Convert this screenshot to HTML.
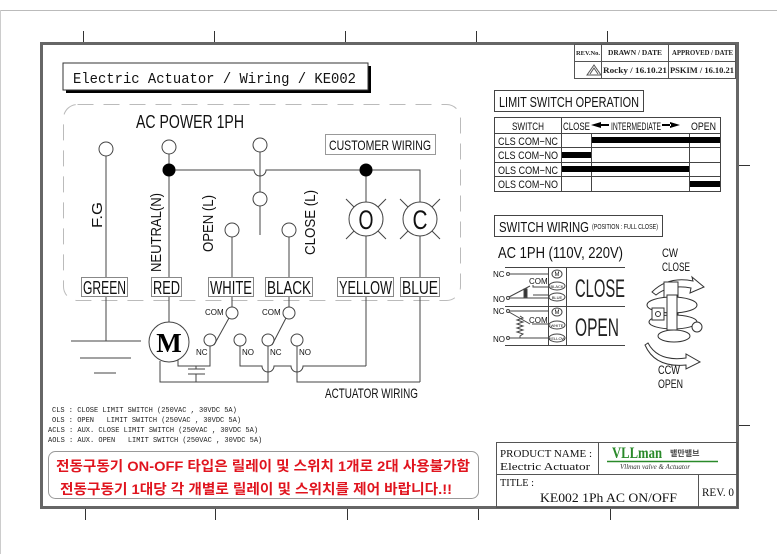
<!DOCTYPE html>
<html><head><meta charset="utf-8"><style>
html,body{margin:0;padding:0;background:#fff;}
svg{display:block;}
.s{font-family:"Liberation Sans",sans-serif;}
.m{font-family:"Liberation Mono","Liberation Serif",monospace;}
.k{font-family:"Liberation Sans","Noto Sans CJK KR",sans-serif;}
</style></head><body>
<svg width="777" height="554" viewBox="0 0 777 554" xmlns="http://www.w3.org/2000/svg">
<rect x="0" y="0" width="777" height="554" fill="#fff"/>
<line x1="0" y1="10.5" x2="777" y2="10.5" stroke="#bbb" stroke-width="1"/>
<line x1="0.5" y1="10" x2="0.5" y2="554" stroke="#ccc"/>
<g stroke="#333" stroke-width="1">
<line x1="83.5" y1="31" x2="83.5" y2="42"/><line x1="214.5" y1="31" x2="214.5" y2="42"/><line x1="345.5" y1="31" x2="345.5" y2="42"/><line x1="476.5" y1="31" x2="476.5" y2="42"/><line x1="607.5" y1="31" x2="607.5" y2="42"/>
<line x1="85.5" y1="508" x2="85.5" y2="520"/><line x1="215.5" y1="508" x2="215.5" y2="520"/><line x1="347.5" y1="508" x2="347.5" y2="520"/><line x1="478.5" y1="508" x2="478.5" y2="520"/><line x1="610.5" y1="508" x2="610.5" y2="520"/>
<line x1="738" y1="165.5" x2="750" y2="165.5"/><line x1="738" y1="425.5" x2="750" y2="425.5"/>
</g>
<rect x="41.5" y="43.5" width="696" height="464" fill="none" stroke="#666" stroke-width="3"/>
<rect x="66" y="66" width="305" height="27" fill="#000"/>
<rect x="63" y="63" width="305" height="27" fill="#fff" stroke="#333"/>
<text x="73" y="83" class="m" font-size="15" textLength="283" lengthAdjust="spacingAndGlyphs" fill="#111">Electric Actuator / Wiring / KE002</text>
<rect x="63.5" y="104.5" width="397" height="196" rx="14" fill="none" stroke="#bbb" stroke-dasharray="16,10"/>
<text x="136" y="128" class="s" font-size="18" textLength="108" lengthAdjust="spacingAndGlyphs" fill="#111">AC POWER 1PH</text>
<g fill="none" stroke="#444" stroke-width="1">
<line x1="106" y1="156" x2="106" y2="341"/>
<line x1="169" y1="154" x2="169" y2="322"/>
<path d="M169 170 H254 A6 6 0 0 0 266 170 H420 V382"/>
<path d="M260 152 V192 M260 206 V235"/>
<line x1="366" y1="170" x2="366" y2="366"/>
<line x1="232" y1="237" x2="232" y2="307"/>
<line x1="289" y1="237" x2="289" y2="307"/>
<circle cx="106" cy="149" r="7" fill="#fff"/>
<circle cx="169" cy="147" r="7" fill="#fff"/>
<circle cx="260" cy="145" r="7" fill="#fff"/>
<circle cx="260" cy="199" r="7" fill="#fff"/>
<circle cx="232" cy="230" r="7" fill="#fff"/>
<circle cx="289" cy="230" r="7" fill="#fff"/>
<circle cx="366" cy="219" r="17" fill="#fff"/>
<circle cx="420" cy="219" r="17" fill="#fff"/>
<path d="M346 199 L354 207 M386 199 L378 207 M346 239 L354 231 M386 239 L378 231"/>
<path d="M400 199 L408 207 M440 199 L432 207 M400 239 L408 231 M440 239 L432 231"/>
<line x1="71" y1="341" x2="141" y2="341"/>
<line x1="80" y1="358" x2="131" y2="358"/>
<line x1="94" y1="373" x2="116" y2="373"/>
<circle cx="232" cy="313" r="6" fill="#fff"/>
<circle cx="289" cy="313" r="6" fill="#fff"/>
<circle cx="210" cy="340" r="6" fill="#fff"/>
<circle cx="240" cy="340" r="6" fill="#fff"/>
<circle cx="268" cy="340" r="6" fill="#fff"/>
<circle cx="297" cy="340" r="6" fill="#fff"/>
<line x1="229" y1="318" x2="214" y2="345"/>
<line x1="286" y1="318" x2="272" y2="345"/>
<circle cx="169" cy="342" r="20" fill="#fff"/>
<path d="M178 360 V366 H210 V346"/>
<path d="M160 361 V382 H268 V346"/>
<path d="M196 366 V369 M188 369 H205 M188 374 H205 M196 374 V382"/>
<path d="M240 346 V366 H262 A6 6 0 0 0 274 366 H291 A6 6 0 0 0 303 366 H366"/>
<path d="M297 346 V382 H420"/>
</g>
<circle cx="169" cy="170" r="6.5" fill="#000"/>
<circle cx="366" cy="170" r="6.5" fill="#000"/>
<text x="169" y="352" font-family="Liberation Serif,serif" font-size="27" font-weight="bold" text-anchor="middle" fill="#000">M</text>
<text x="366" y="229" class="s" font-size="27" text-anchor="middle" fill="#111" textLength="15" lengthAdjust="spacingAndGlyphs">O</text>
<text x="420" y="229" class="s" font-size="27" text-anchor="middle" fill="#111" textLength="15" lengthAdjust="spacingAndGlyphs">C</text>
<rect x="325.5" y="134.5" width="110" height="20" fill="#fff" stroke="#999"/>
<text x="329" y="150" class="s" font-size="14" textLength="102" lengthAdjust="spacingAndGlyphs" fill="#111">CUSTOMER WIRING</text>
<g class="s" font-size="15" fill="#111">
<text transform="translate(102,228) rotate(-90)" textLength="26" lengthAdjust="spacingAndGlyphs">F.G</text>
<text transform="translate(161,272) rotate(-90)" textLength="79" lengthAdjust="spacingAndGlyphs">NEUTRAL(N)</text>
<text transform="translate(213,252) rotate(-90)" textLength="57" lengthAdjust="spacingAndGlyphs">OPEN (L)</text>
<text transform="translate(315,255) rotate(-90)" textLength="65" lengthAdjust="spacingAndGlyphs">CLOSE (L)</text>
</g>
<g fill="#fff" stroke="#888">
<rect x="81.5" y="277.5" width="46" height="19"/><rect x="151.5" y="277.5" width="30" height="19"/>
<rect x="208.5" y="277.5" width="45" height="19"/><rect x="265.5" y="277.5" width="47" height="19"/>
<rect x="337.5" y="277.5" width="56" height="19"/><rect x="400.5" y="277.5" width="39" height="19"/>
</g>
<g class="s" font-size="18" fill="#111">
<text x="83" y="294" textLength="43" lengthAdjust="spacingAndGlyphs">GREEN</text><text x="153" y="294" textLength="27" lengthAdjust="spacingAndGlyphs">RED</text>
<text x="210" y="294" textLength="42" lengthAdjust="spacingAndGlyphs">WHITE</text><text x="267" y="294" textLength="44" lengthAdjust="spacingAndGlyphs">BLACK</text>
<text x="339" y="294" textLength="53" lengthAdjust="spacingAndGlyphs">YELLOW</text><text x="402" y="294" textLength="36" lengthAdjust="spacingAndGlyphs">BLUE</text>
</g>
<g class="s" font-size="8" fill="#111">
<text x="205" y="315">COM</text><text x="262" y="315">COM</text>
<text x="196" y="355">NC</text><text x="242" y="355">NO</text><text x="270" y="355">NC</text><text x="299" y="355">NO</text>
</g>
<text x="325" y="398" class="s" font-size="14" textLength="93" lengthAdjust="spacingAndGlyphs" fill="#111">ACTUATOR WIRING</text>
<g class="m" font-size="7" fill="#222">
<text x="52" y="412">CLS : CLOSE LIMIT SWITCH (250VAC , 30VDC 5A)</text>
<text x="52" y="422">OLS : OPEN &#160;&#160;LIMIT SWITCH (250VAC , 30VDC 5A)</text>
<text x="48" y="432">ACLS : AUX. CLOSE LIMIT SWITCH (250VAC , 30VDC 5A)</text>
<text x="48" y="442">AOLS : AUX. OPEN &#160;&#160;LIMIT SWITCH (250VAC , 30VDC 5A)</text>
</g>
<rect x="48.5" y="451.5" width="430" height="47" rx="7" fill="#fff" stroke="#999"/>
<text x="56" y="471" class="k" font-size="14" font-weight="bold" fill="#e0141e" textLength="414" lengthAdjust="spacingAndGlyphs">전동구동기 ON-OFF 타입은  릴레이 및 스위치 1개로 2대 사용불가함</text>
<text x="60" y="494" class="k" font-size="14" font-weight="bold" fill="#e0141e" textLength="392" lengthAdjust="spacingAndGlyphs">전동구동기 1대당 각 개별로 릴레이 및 스위치를 제어 바랍니다.!!</text>
<g fill="none" stroke="#555">
<rect x="574.5" y="44.5" width="161" height="34"/>
<line x1="574" y1="61.5" x2="736" y2="61.5"/>
<line x1="601.5" y1="44" x2="601.5" y2="79"/><line x1="668.5" y1="44" x2="668.5" y2="79"/>
<path d="M587 75 L594 65 L601 75 Z M590 74 L594 68 L598 74"/>
</g>
<g font-family="Liberation Serif,serif" font-size="7" fill="#222" font-weight="bold">
<text x="576" y="55" textLength="24" lengthAdjust="spacingAndGlyphs" font-size="6">REV.No.</text><text x="608" y="55" textLength="54" lengthAdjust="spacingAndGlyphs">DRAWN / DATE</text><text x="672" y="55" textLength="61" lengthAdjust="spacingAndGlyphs">APPROVED / DATE</text>
<text x="603" y="73" font-size="8" textLength="64" lengthAdjust="spacingAndGlyphs">Rocky / 16.10.21</text><text x="670" y="73" font-size="8" textLength="64" lengthAdjust="spacingAndGlyphs">PSKIM / 16.10.21</text>
</g>
<rect x="494.5" y="90.5" width="149" height="21" fill="#fff" stroke="#444"/>
<text x="499" y="107" class="s" font-size="15" textLength="140" lengthAdjust="spacingAndGlyphs" fill="#111">LIMIT SWITCH OPERATION</text>
<g fill="none" stroke="#444">
<rect x="494.5" y="117.5" width="226" height="74"/>
<line x1="494" y1="133.5" x2="721" y2="133.5"/><line x1="494" y1="147.5" x2="721" y2="147.5"/>
<line x1="494" y1="162.5" x2="721" y2="162.5"/><line x1="494" y1="176.5" x2="721" y2="176.5"/>
<line x1="561.5" y1="117" x2="561.5" y2="192"/><line x1="591.5" y1="133" x2="591.5" y2="192"/><line x1="689.5" y1="133" x2="689.5" y2="192"/>
</g>
<g fill="#000">
<rect x="592" y="137" width="128" height="6"/>
<rect x="562" y="152" width="29" height="6"/>
<rect x="562" y="166" width="127" height="6"/>
<rect x="690" y="181" width="30" height="6"/>
<path d="M591 125 L601 122 L601 128 Z M600 124 h9 v2 h-9z"/>
<path d="M680 125 L670 122 L670 128 Z M662 124 h9 v2 h-9z"/>
</g>
<g class="s" font-size="11" fill="#111">
<text x="512" y="130" textLength="32" lengthAdjust="spacingAndGlyphs">SWITCH</text>
<text x="563" y="130" textLength="27" lengthAdjust="spacingAndGlyphs">CLOSE</text>
<text x="611" y="130" textLength="50" lengthAdjust="spacingAndGlyphs">INTERMEDIATE</text>
<text x="691" y="130" textLength="25" lengthAdjust="spacingAndGlyphs">OPEN</text>
<text x="498" y="145" textLength="60" lengthAdjust="spacingAndGlyphs">CLS COM−NC</text>
<text x="498" y="159" textLength="60" lengthAdjust="spacingAndGlyphs">CLS COM−NO</text>
<text x="498" y="174" textLength="60" lengthAdjust="spacingAndGlyphs">OLS COM−NC</text>
<text x="498" y="188" textLength="60" lengthAdjust="spacingAndGlyphs">OLS COM−NO</text>
</g>
<rect x="494.5" y="215.5" width="168" height="21" fill="#fff" stroke="#444"/>
<text x="499" y="232" class="s" font-size="15" textLength="90" lengthAdjust="spacingAndGlyphs" fill="#111">SWITCH WIRING</text>
<text x="592" y="229" class="s" font-size="7" fill="#111" textLength="66" lengthAdjust="spacingAndGlyphs">(POSITION : FULL CLOSE)</text>
<text x="498" y="258" class="s" font-size="16" textLength="125" lengthAdjust="spacingAndGlyphs" fill="#111">AC 1PH (110V, 220V)</text>
<g fill="none" stroke="#444">
<line x1="505" y1="267.5" x2="625" y2="267.5"/><line x1="505" y1="306.5" x2="625" y2="306.5"/><line x1="505" y1="345.5" x2="625" y2="345.5"/>
<line x1="548.5" y1="267" x2="548.5" y2="346"/><line x1="566.5" y1="267" x2="566.5" y2="346"/>
<circle cx="508" cy="274" r="1.5"/><circle cx="508" cy="298" r="1.5"/><circle cx="508" cy="311" r="1.5"/><circle cx="508" cy="338" r="1.5"/>
<path d="M510 274 H549 M510 298 H549 M509 297 L530 286 M533 285 V287 H549 M533 295 H549"/>
<path d="M510 311 H549 M509 312 L530 324 M532 324 H549 M510 338 H549"/>
<path d="M520 316 l3 2 -6 2 6 2 -6 2 6 2 -6 2 6 2 -6 2 6 2 -3 2 V338"/>
<rect x="524" y="289" width="3" height="8" fill="#333"/>
<ellipse cx="557" cy="274" rx="5" ry="4"/><ellipse cx="557" cy="286" rx="8" ry="4"/><ellipse cx="557" cy="297" rx="8" ry="4"/>
<ellipse cx="557" cy="312" rx="5" ry="4"/><ellipse cx="557" cy="325" rx="8" ry="4"/><ellipse cx="557" cy="338" rx="8" ry="4"/>
</g>
<g class="s" font-size="8" fill="#111">
<text x="493" y="277">NC</text><text x="493" y="302">NO</text><text x="493" y="314">NC</text><text x="493" y="342">NO</text>
<text x="529" y="284">COM</text><text x="529" y="323">COM</text>
</g>
<g class="s" font-size="4" fill="#111" text-anchor="middle">
<text x="557" y="276" font-size="6">M</text><text x="557" y="288">BLACK</text><text x="557" y="299">BLUE</text>
<text x="557" y="314" font-size="6">M</text><text x="557" y="327">WHITE</text><text x="557" y="340">YELLOW</text>
</g>
<text x="575" y="297" class="s" font-size="25" textLength="50" lengthAdjust="spacingAndGlyphs" fill="#222">CLOSE</text>
<text x="575" y="336" class="s" font-size="25" textLength="44" lengthAdjust="spacingAndGlyphs" fill="#222">OPEN</text>
<g class="s" font-size="12" fill="#111">
<text x="662" y="257" textLength="16" lengthAdjust="spacingAndGlyphs">CW</text><text x="662" y="271" textLength="28" lengthAdjust="spacingAndGlyphs">CLOSE</text>
<text x="658" y="374" textLength="22" lengthAdjust="spacingAndGlyphs">CCW</text><text x="658" y="388" textLength="25" lengthAdjust="spacingAndGlyphs">OPEN</text>
</g>
<g fill="#fff" stroke="#333" stroke-width="1">
<path d="M652 292 Q668 276 693 281 L692 277 L704 287 L690 293 L691 288 Q670 284 656 295 Z"/>
<rect x="664" y="282" width="14" height="42"/>
<ellipse cx="672" cy="305" rx="25" ry="8"/>
<ellipse cx="673" cy="322" rx="24" ry="7"/>
<rect x="667" y="295" width="10" height="35"/>
<rect x="652" y="308" width="12" height="12"/>
<circle cx="658" cy="314" r="2.5"/>
<circle cx="697" cy="327" r="5"/>
<ellipse cx="674" cy="336" rx="16" ry="6"/>
<path d="M648 343 Q658 362 686 358 L686 354 L700 362 L686 369 L686 365 Q655 368 645 345 Z"/>
</g>
<g fill="none" stroke="#555">
<rect x="496.5" y="442.5" width="241" height="65"/>
<line x1="496" y1="474.5" x2="738" y2="474.5"/>
<line x1="598.5" y1="442" x2="598.5" y2="475"/>
<line x1="698.5" y1="474" x2="698.5" y2="508"/>
</g>
<g font-family="Liberation Serif,serif" fill="#111">
<text x="500" y="457" font-size="11" textLength="92" lengthAdjust="spacingAndGlyphs">PRODUCT NAME :</text>
<text x="500" y="470" font-size="11" textLength="90" lengthAdjust="spacingAndGlyphs">Electric Actuator</text>
<text x="500" y="486" font-size="11" textLength="34" lengthAdjust="spacingAndGlyphs">TITLE :</text>
<text x="540" y="502" font-size="13" textLength="137" lengthAdjust="spacingAndGlyphs">KE002 1Ph AC ON/OFF</text>
<text x="702" y="496" font-size="12" textLength="32" lengthAdjust="spacingAndGlyphs">REV. 0</text>
</g>
<text x="612" y="458" font-family="Liberation Serif,serif" font-weight="bold" font-size="16" fill="#2a8a2a" textLength="50" lengthAdjust="spacingAndGlyphs">VLLman</text>
<text x="670" y="456" class="k" font-size="8" font-weight="bold" fill="#444">밸만밸브</text>
<line x1="607" y1="461.5" x2="718" y2="461.5" stroke="#2a8a2a" stroke-width="1.5"/>
<text x="620" y="469" font-family="Liberation Serif,serif" font-style="italic" font-size="7" fill="#333">Vllman  valve  &amp;  Actuator</text>
</svg>
</body></html>
